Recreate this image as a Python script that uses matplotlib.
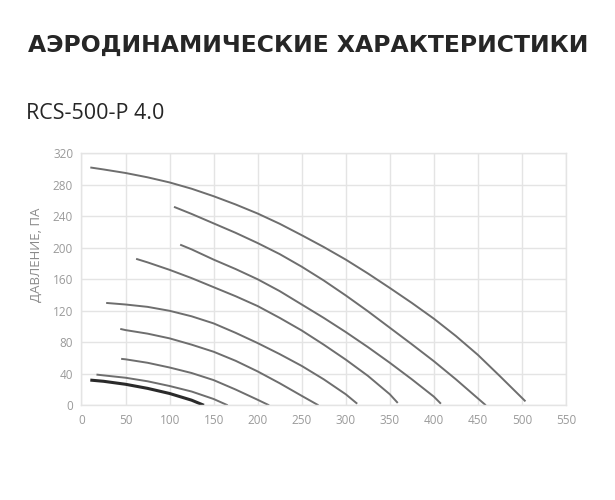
import numpy as np
import matplotlib.pyplot as plt

# fan curves (flow, pressure)
c1_x = [10, 25, 50, 75, 100, 125, 150, 175, 200, 225, 250, 275, 300, 325, 350, 375, 400, 425, 450, 475, 504]
c1_y = [302, 299.5, 295, 289.5, 283, 275, 265.5, 255, 243.5, 230.5, 216, 201, 185, 167.5, 149, 130, 110, 88, 64, 37, 5]
c2_x = [105, 125, 150, 175, 200, 225, 250, 275, 300, 325, 350, 375, 400, 425, 459]
c2_y = [252, 243, 231, 219, 206, 192, 176, 158.5, 139.5, 119.5, 98.5, 77.5, 56, 33, 0]
c3_x = [112, 125, 150, 175, 200, 225, 250, 275, 300, 325, 350, 375, 400, 408]
c3_y = [204, 198, 185, 173, 160, 145, 128, 111, 93, 74, 54, 33, 11, 2]
c4_x = [62, 75, 100, 125, 150, 175, 200, 225, 250, 275, 300, 325, 350, 359]
c4_y = [186, 181.5, 172, 161.5, 150, 138.5, 126, 111, 95, 77, 58, 37.5, 14, 3]
c5_x = [28, 50, 75, 100, 125, 150, 175, 200, 225, 250, 275, 300, 313]
c5_y = [130, 128, 125, 120, 113, 104, 92, 79, 65, 50, 33, 14, 2]
c6_x = [44, 50, 75, 100, 125, 150, 175, 200, 225, 250, 269]
c6_y = [97, 95.5, 91, 85, 77, 68, 56.5, 43, 28, 12, 0]
c7_x = [45, 50, 75, 100, 125, 150, 175, 200, 213]
c7_y = [59, 58.4, 54, 48, 41, 32, 20, 7, 0]
c8_x = [17, 25, 50, 75, 100, 125, 150, 166]
c8_y = [39, 38, 35, 30.5, 24.5, 17.5, 8, 0]
c9_x = [10, 25, 50, 75, 100, 125, 139]
c9_y = [32, 30.5, 26.7, 21.5, 15, 6.5, 0]

xticks = np.arange(0, 551, 50)
yticks = np.arange(0, 321, 40)

fig = plt.figure(figsize=(6.15, 5), dpi=100)
ax = fig.add_axes([81.5/615, 1-405.3/500, (566-81.5)/615, (405.3-153.3)/500])

grey = '#6e6e6e'
for xs, ys in [(c1_x, c1_y), (c2_x, c2_y), (c3_x, c3_y), (c4_x, c4_y),
               (c5_x, c5_y), (c6_x, c6_y), (c7_x, c7_y), (c8_x, c8_y)]:
    ax.plot(xs, ys, color=grey, lw=1.4, solid_capstyle='butt', solid_joinstyle='round')
ax.plot(c9_x, c9_y, color='#2a2a2a', lw=2.2, solid_capstyle='butt', solid_joinstyle='round')

ax.set_xlim(0, 550)
ax.set_ylim(0, 320)
ax.set_xticks(xticks)
ax.set_yticks(yticks)
ax.grid(True, color='#e4e4e4', lw=1)
ax.set_axisbelow(True)
for s in ax.spines.values():
    s.set_color('#e4e4e4')
    s.set_linewidth(1)
ax.tick_params(length=0, pad=6, labelsize=8.5, labelcolor='#9a9a9a')
for lab in ax.get_xticklabels() + ax.get_yticklabels():
    lab.set_family('Open Sans')

fig.text(36.3/615, 1-255/500, 'ДАВЛЕНИЕ, ПА', rotation=90, ha='center', va='center',
         fontsize=9.5, color='#8a8a8a', family='Open Sans')

fig.text(28/615, 1-45.5/500, 'АЭРОДИНАМИЧЕСКИЕ ХАРАКТЕРИСТИКИ', ha='left', va='center',
         fontsize=16.9, fontweight='bold', color='#262626', family='DejaVu Sans')
fig.text(26/615, 1-119.3/500, 'RCS-500-P 4.0', ha='left', va='baseline',
         fontsize=15.5, color='#262626', family='Open Sans')

fig.savefig('out.png', dpi=100)
